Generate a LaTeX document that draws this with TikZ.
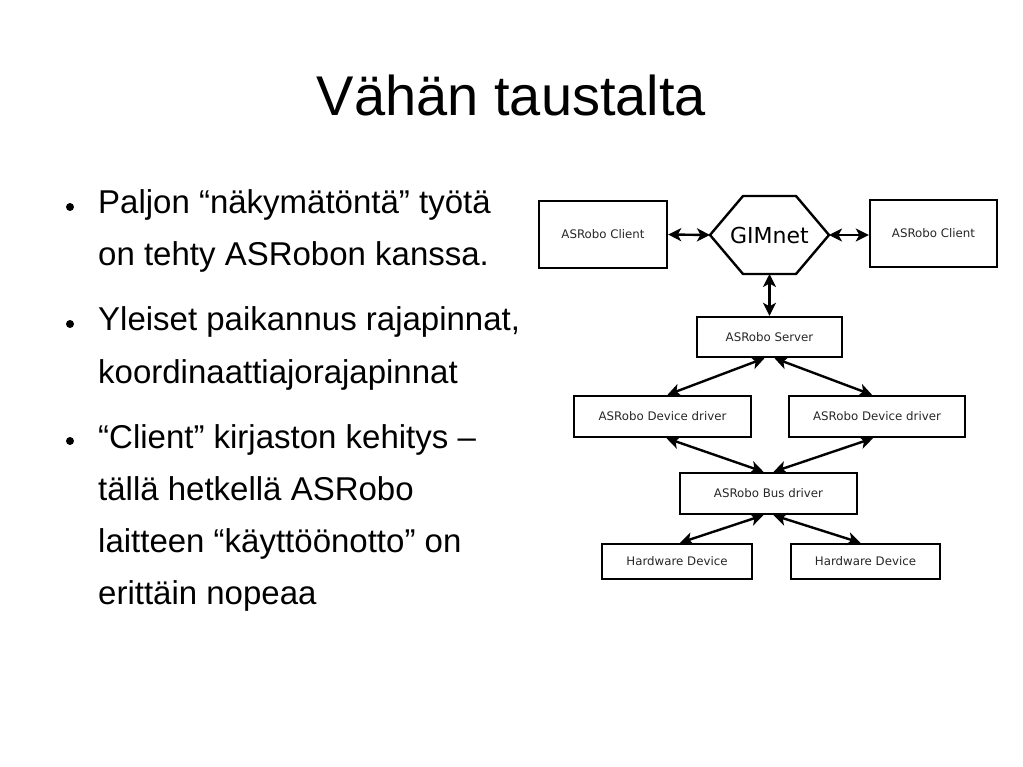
\documentclass[tikz,border=0pt]{standalone}
\usepackage{fontspec}
\setmainfont{Liberation Sans}
\newfontfamily\diafont{DejaVu Sans}
\usetikzlibrary{arrows.meta}

\begin{document}
\begin{tikzpicture}[x=1pt,y=-1pt,
    box/.style={draw,line width=2.4pt,inner sep=0pt,font=\diafont\fontsize{11.8}{13}\selectfont,text=black!85},
    link/.style={line width=2.4pt,{Stealth[length=13pt,width=13pt,inset=3.5pt]}-{Stealth[length=13pt,width=13pt,inset=3.5pt]}},
    line/.style={anchor=base west,inner sep=0pt,font=\fontsize{33}{40}\selectfont},
    dot/.style={circle,fill,inner sep=0pt,minimum size=8pt}]
    \useasboundingbox (0,0) rectangle (1023,767);
    % title
    \node[anchor=base,inner sep=0pt,font=\fontsize{56}{60}\selectfont] (title) at (511.5,116) {Vähän taustalta};
    % bullets
    \node[dot] (b1) at (70,207) {};
    \node[line] (l1) at (98,214) {Paljon “näkymätöntä” työtä};
    \node[line] (l2) at (98,266) {on tehty ASRobon kanssa.};
    \node[dot] (b2) at (70,324) {};
    \node[line] (l3) at (98,331) {Yleiset paikannus rajapinnat,};
    \node[line] (l4) at (98,383) {koordinaattiajorajapinnat};
    \node[dot] (b3) at (70,441) {};
    \node[line] (l5) at (98,448) {“Client” kirjaston kehitys –};
    \node[line] (l6) at (98,500) {tällä hetkellä ASRobo};
    \node[line] (l7) at (98,552) {laitteen “käyttöönotto” on};
    \node[line] (l8) at (98,604) {erittäin nopeaa};
    % diagram
    \node[box,minimum width=128pt,minimum height=67pt] (cl1) at (603,234.5) {ASRobo Client};
    \node[box,minimum width=127pt,minimum height=67pt] (cl2) at (933.5,233.5) {ASRobo Client};
    \node[font=\diafont\fontsize{22}{24}\selectfont,inner sep=0pt] (gim) at (769.5,235) {GIMnet};
    \draw[line width=2.4pt,line join=miter] (710,235) -- (743,196) -- (796,196) -- (829,235) -- (796,274) -- (743,274) -- cycle;
    \coordinate (gimW) at (710,235);
    \coordinate (gimE) at (829,235);
    \coordinate (gimS) at (769.5,274);
    \node[box,minimum width=145pt,minimum height=40pt] (srv) at (769.5,337) {ASRobo Server};
    \node[box,minimum width=177pt,minimum height=41pt] (dd1) at (662.5,416.5) {ASRobo Device driver};
    \node[box,minimum width=176pt,minimum height=41pt] (dd2) at (877,416.5) {ASRobo Device driver};
    \node[box,minimum width=177pt,minimum height=41pt] (bus) at (768.5,493.5) {ASRobo Bus driver};
    \node[box,minimum width=150pt,minimum height=35pt] (hw1) at (677,561.5) {Hardware Device};
    \node[box,minimum width=149pt,minimum height=35pt] (hw2) at (865.5,561.5) {Hardware Device};
    \draw[link] (cl1.east) -- (gimW);
    \draw[link] (gimE) -- (cl2.west |- gimE);
    \draw[link] (gimS) -- (srv.north);
    \draw[link] ([xshift=-5pt]srv.south) -- ([xshift=5pt]dd1.north);
    \draw[link] ([xshift=5pt]srv.south) -- ([xshift=-5pt]dd2.north);
    \draw[link] ([xshift=4pt]dd1.south) -- ([xshift=-5pt]bus.north);
    \draw[link] ([xshift=-4pt]dd2.south) -- ([xshift=5pt]bus.north);
    \draw[link] ([xshift=-5pt]bus.south) -- ([xshift=3pt]hw1.north);
    \draw[link] ([xshift=5pt]bus.south) -- ([xshift=-5pt]hw2.north);
\end{tikzpicture}
\end{document}
